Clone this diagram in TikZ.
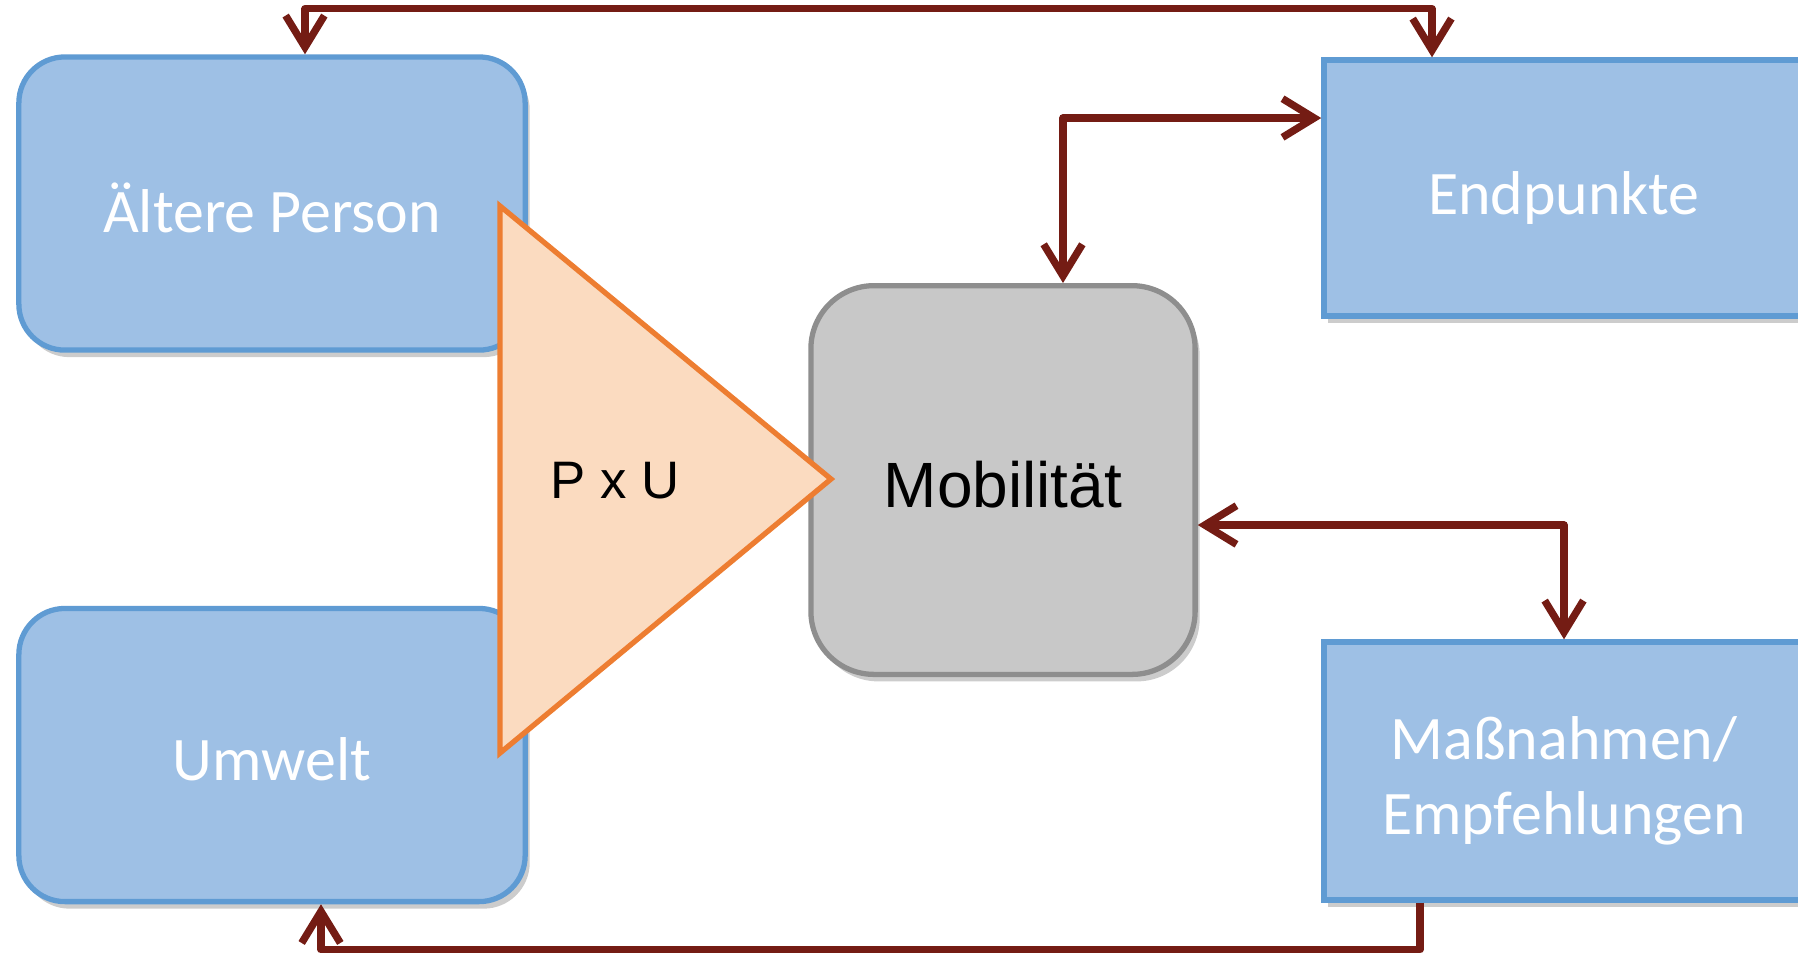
\documentclass[tikz,border=0pt]{standalone}
\usepackage{fontspec}
\setmainfont{Carlito}
\newfontfamily\arialfont{Liberation Sans}
\usetikzlibrary{calc, positioning, shadows, arrows.meta}
\definecolor{boxfill}{RGB}{158,192,229}
\definecolor{boxline}{RGB}{95,155,211}
\definecolor{mobfill}{RGB}{200,200,200}
\definecolor{mobline}{RGB}{142,142,142}
\definecolor{trifill}{RGB}{251,219,192}
\definecolor{triline}{RGB}{237,125,49}
\definecolor{linkred}{RGB}{116,28,20}
\tikzset{/Flow/block/.style={
	shape=rectangle, fill=boxfill, draw=boxline, line width=1.5pt,
	text=white, font=\fontsize{17.6}{21.5}\selectfont, align=center,
	minimum width=5.06cm, minimum height=2.93cm, inner sep=0,
	drop shadow={shadow xshift=1.3pt, shadow yshift=-2pt, opacity=0.4}
}}
\tikzset{/Flow/link/.style={
	draw=linkred, line width=2.1pt, line join=round,
	>={Straight Barb[length=9pt, width=11pt]}
}}

\begin{document}
\begin{tikzpicture}[x=0.01cm, y=-0.01cm]
\useasboundingbox (0,0) rectangle (1798,956);
{
\node[/Flow/block, rounded corners=0.46cm, text height=16.5pt] (aeltere) at (272,203.5) {Ältere Person};
\node[/Flow/block, rounded corners=0.46cm, text height=14.5pt] (umwelt) at (272,755) {Umwelt};
\node[/Flow/block, minimum width=4.8cm, minimum height=2.56cm, text height=18pt] (endpunkte) at (1564,188) {Endpunkte};
\node[/Flow/block, minimum width=4.8cm, minimum height=2.58cm, text height=39.4pt] (massnahmen) at (1564,771) {Maßnahmen/\\Empfehlungen};
\node[shape=rectangle, rounded corners=0.63cm, fill=mobfill, draw=mobline, line width=1.5pt,
	minimum width=3.84cm, minimum height=3.885cm, text height=15.8pt, font=\arialfont\fontsize{18.2}{22}\selectfont,
	drop shadow={shadow xshift=1.3pt, shadow yshift=-2pt, opacity=0.4}] (mobil) at (1003,480) {Mobilität};
}
\filldraw[fill=trifill, draw=triline, line width=1.5pt] (500,206) -- (831,479) -- (500,753) -- cycle;
\node[font=\arialfont\fontsize{15}{18}\selectfont] (pxu) at (615,481) {P x U};

\path[/Flow/link, <->] ($(aeltere.north)+(33,0)$) -- ++(0,-45.5) -| ($(endpunkte.north)+(-132,0)$);
\path[/Flow/link, <->] ($(mobil.north)+(60,0)$) |- ($(endpunkte.west)+(0,-70)$);
\path[/Flow/link, <->] ($(mobil.east)+(0,45)$) -| (massnahmen.north);
\path[/Flow/link, ->] ($(massnahmen.south)+(-144,0)$) -- ++(0,47) -| ($(umwelt.south)+(49,0)$);
\end{tikzpicture}
\end{document}
